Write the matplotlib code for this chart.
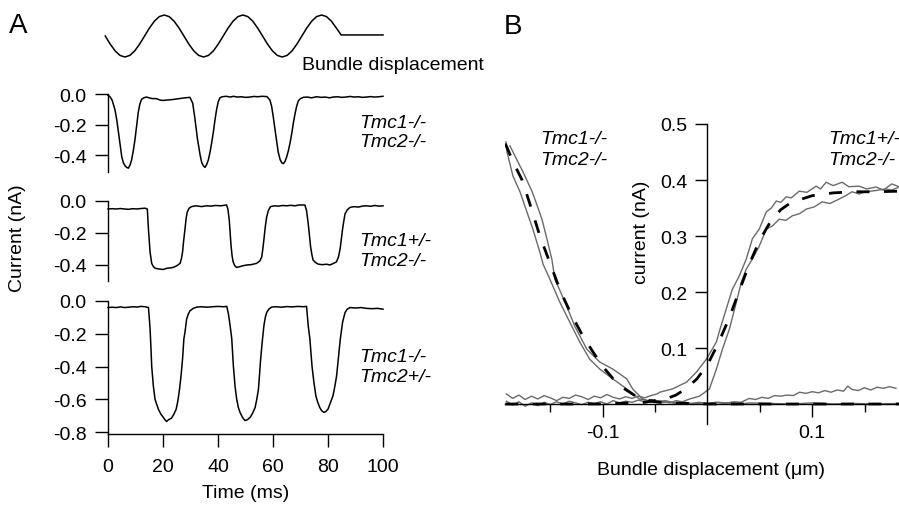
import matplotlib
matplotlib.use("Agg")
import matplotlib.pyplot as plt
from matplotlib.ticker import FormatStrFormatter

plt.rcParams['font.family'] = ['Liberation Sans', 'DejaVu Sans']
plt.rcParams['axes.unicode_minus'] = False
plt.rcParams['font.size'] = 14

# ---------------- DATA ----------------
# Panel A: stimulus (bundle displacement, normalised)
stim_t = [-1.0, 0.79, 2.58, 4.36, 6.15, 7.94, 9.73, 11.51, 13.3, 15.09, 16.88, 18.66, 20.45,
          22.24, 24.03, 25.81, 27.6, 29.39, 31.18, 32.96, 34.75, 36.54, 38.33, 40.11, 41.9,
          43.69, 45.48, 47.26, 49.05, 50.84, 52.63, 54.41, 56.2, 57.99, 59.78, 61.56, 63.35,
          65.14, 66.93, 68.71, 70.5, 72.29, 74.08, 75.86, 77.65, 79.44, 81.23, 83.01, 84.8, 100.0]
stim_v = [0, -0.383, -0.707, -0.924, -1, -0.924, -0.707, -0.383, 0, 0.383, 0.707, 0.924, 1,
          0.924, 0.707, 0.383, 0, -0.383, -0.707, -0.924, -1, -0.924, -0.707, -0.383, 0,
          0.383, 0.707, 0.924, 1, 0.924, 0.707, 0.383, 0, -0.383, -0.707, -0.924, -1,
          -0.924, -0.707, -0.383, 0, 0.383, 0.707, 0.924, 1, 0.924, 0.707, 0.383, 0.05, 0.05]

# Trace 1: Tmc1-/- Tmc2-/-
t1 = [0, 0.6, 1.5, 2.5, 3.2, 3.8, 4.4, 5.0, 5.6, 6.2, 6.8, 7.4, 8.0, 8.6, 9.2, 9.8, 10.4, 11.0,
      11.6, 12.2, 13.0, 13.9, 15, 16, 17.5, 19, 20, 21.2, 22.5, 24, 26, 28, 29.8, 30.8, 31.6,
      32.5, 33.5, 34.1, 34.7, 35.3, 35.9, 36.5, 37.1, 37.7, 38.3, 38.9, 39.5, 40.1, 40.7, 41.5,
      43, 44.5, 45.6, 47, 48.5, 50, 51.7, 53, 54.5, 56, 57.8, 58.9, 59.5, 60.1, 61.1, 61.9,
      62.6, 63.2, 63.8, 64.4, 65.0, 65.6, 66.2, 66.8, 67.4, 68.0, 68.6, 69.2, 70, 71, 72.5,
      74, 75.9, 77.5, 79, 80.5, 81.9, 83.5, 85, 86.5, 88, 89.5, 91, 92.5, 94, 95.5, 97, 98.5, 100]
i1 = [-0.01, -0.015, -0.04, -0.10, -0.17, -0.25, -0.33, -0.41, -0.45, -0.47, -0.48, -0.485,
      -0.465, -0.43, -0.37, -0.30, -0.21, -0.12, -0.065, -0.035, -0.025, -0.02, -0.025, -0.03,
      -0.03, -0.04, -0.042, -0.04, -0.038, -0.035, -0.03, -0.025, -0.022, -0.06, -0.16, -0.29,
      -0.40, -0.45, -0.47, -0.48, -0.46, -0.43, -0.38, -0.32, -0.25, -0.17, -0.10, -0.05,
      -0.025, -0.018, -0.015, -0.02, -0.015, -0.02, -0.018, -0.022, -0.02, -0.016, -0.018,
      -0.015, -0.017, -0.04, -0.08, -0.15, -0.28, -0.38, -0.43, -0.45, -0.455, -0.44, -0.41,
      -0.37, -0.32, -0.26, -0.19, -0.13, -0.08, -0.045, -0.03, -0.022, -0.02, -0.025, -0.018,
      -0.022, -0.02, -0.025, -0.02, -0.018, -0.022, -0.02, -0.016, -0.02, -0.018, -0.022,
      -0.02, -0.017, -0.02, -0.018, -0.015]

# Trace 2: Tmc1+/- Tmc2-/-
t2 = [0, 1.5, 3, 4.5, 6, 7.5, 9, 10.5, 12, 13.5, 14.3, 14.7, 15.3, 15.9, 16.5, 17.1, 18.5, 20.1,
      21.5, 22.7, 23.7, 25, 26.2, 26.7, 27.1, 27.5, 28.0, 28.4, 28.8, 29.5, 30.4, 32, 34, 35.8,
      37.5, 39, 41, 43.1, 43.6, 44.1, 44.7, 45.1, 45.5, 46.1, 46.8, 48, 49, 50.4, 52, 54, 55.2,
      55.9, 56.3, 56.7, 57.2, 57.7, 58.3, 59.1, 60.5, 62, 63.5, 64.9, 66.5, 68, 69.5, 71.6,
      72.2, 72.8, 73.7, 74.2, 74.6, 75.5, 76.5, 78, 79.5, 80.7, 82, 83.1, 83.8, 84.4, 85.3,
      85.8, 86.2, 87, 88, 89.5, 91, 92.5, 94, 95.5, 97, 98.5, 100]
i2 = [-0.05, -0.048, -0.05, -0.047, -0.05, -0.052, -0.048, -0.05, -0.047, -0.045, -0.05,
      -0.175, -0.32, -0.39, -0.41, -0.42, -0.425, -0.428, -0.42, -0.418, -0.415, -0.405,
      -0.39, -0.36, -0.32, -0.25, -0.175, -0.11, -0.07, -0.045, -0.035, -0.03, -0.035, -0.03,
      -0.032, -0.028, -0.03, -0.025, -0.05, -0.12, -0.27, -0.34, -0.38, -0.405, -0.415, -0.41,
      -0.405, -0.40, -0.398, -0.39, -0.375, -0.35, -0.30, -0.24, -0.16, -0.10, -0.06, -0.035,
      -0.03, -0.032, -0.028, -0.03, -0.027, -0.03, -0.025, -0.025, -0.06, -0.14, -0.29, -0.34,
      -0.37, -0.385, -0.395, -0.398, -0.395, -0.40, -0.39, -0.38, -0.35, -0.30, -0.175, -0.12,
      -0.08, -0.055, -0.04, -0.035, -0.038, -0.032, -0.03, -0.033, -0.028, -0.032, -0.03]

# Trace 3: Tmc1-/- Tmc2+/-
t3 = [0, 1.5, 3, 4.5, 6, 7.5, 9, 10.5, 12, 13.5, 14.7, 15.0, 15.3, 15.6, 15.9, 16.5, 17.1, 18.3,
      19.2, 20.1, 20.7, 21.3, 22.0, 23.1, 24.0, 24.8, 25.4, 26.0, 26.6, 27.1, 27.6, 28.0, 28.6,
      29.2, 29.8, 31, 32.3, 34, 36, 38, 40, 42, 43.2, 43.8, 44.4, 45.0, 45.6, 46.2, 46.8, 47.4,
      48.0, 48.9, 49.8, 50.7, 51.7, 52.6, 53.5, 54.1, 54.7, 55.1, 55.5, 56.2, 56.7, 57.2, 57.7,
      58.5, 59.5, 61, 63, 65, 67, 69, 71, 72.2, 72.8, 73.4, 74.2, 74.9, 75.6, 76.3, 77.0, 77.7,
      78.5, 79.2, 80.0, 80.9, 81.8, 82.5, 83.1, 83.6, 84.0, 84.5, 85.3, 86.2, 87, 88, 90, 92,
      94, 96, 98, 100]
i3 = [-0.04, -0.038, -0.04, -0.036, -0.04, -0.038, -0.035, -0.037, -0.033, -0.035, -0.04,
      -0.10, -0.17, -0.28, -0.40, -0.52, -0.60, -0.66, -0.69, -0.71, -0.725, -0.735, -0.725,
      -0.715, -0.69, -0.66, -0.61, -0.54, -0.45, -0.355, -0.23, -0.19, -0.11, -0.08, -0.06,
      -0.045, -0.037, -0.035, -0.038, -0.035, -0.033, -0.035, -0.033, -0.08, -0.15, -0.23,
      -0.40, -0.52, -0.60, -0.65, -0.68, -0.71, -0.73, -0.725, -0.71, -0.685, -0.65, -0.60,
      -0.54, -0.45, -0.355, -0.23, -0.15, -0.10, -0.07, -0.05, -0.037, -0.035, -0.038, -0.034,
      -0.036, -0.033, -0.035, -0.033, -0.15, -0.23, -0.40, -0.50, -0.58, -0.62, -0.65, -0.67,
      -0.68, -0.675, -0.66, -0.62, -0.58, -0.52, -0.46, -0.38, -0.31, -0.23, -0.13, -0.07,
      -0.05, -0.04, -0.043, -0.04, -0.045, -0.047, -0.045, -0.05]

# Panel B: current vs bundle displacement (um, nA)
flat_x = [-0.192, -0.186, -0.180, -0.174, -0.168, -0.162, -0.156, -0.150, -0.144, -0.138,
          -0.132, -0.126, -0.120, -0.114, -0.108, -0.102, -0.096, -0.090, -0.084, -0.078,
          -0.072, -0.066, -0.060, -0.054, -0.048]
n_up_x = flat_x + [-0.0457, -0.0333, -0.02, -0.0105, -0.001, 0.0086, 0.0114, 0.018, 0.0238,
                   0.0305, 0.0371, 0.0429, 0.0495, 0.0562, 0.061, 0.0657, 0.070, 0.0752, 0.080,
                   0.0876, 0.095, 0.1038, 0.108, 0.1133, 0.120, 0.1286, 0.135, 0.1448, 0.152,
                   0.161, 0.168, 0.176, 0.183]
n_up_y = [0.018, 0.010, 0.016, 0.008, 0.014, 0.009, 0.015, 0.011, 0.006, 0.012, 0.010, 0.016,
          0.013, 0.008, 0.014, 0.011, 0.017, 0.012, 0.009, 0.013, 0.010, 0.014, 0.011, 0.015,
          0.018] + [0.021, 0.027, 0.039, 0.057, 0.080, 0.111, 0.130, 0.170, 0.205, 0.229, 0.259,
                    0.295, 0.3125, 0.343, 0.350, 0.3625, 0.360, 0.370, 0.368, 0.380, 0.378,
                    0.389, 0.384, 0.396, 0.390, 0.396, 0.388, 0.389, 0.384, 0.3875, 0.382,
                    0.393, 0.388]
n_lo_x = flat_x + [-0.042, -0.036, -0.030, -0.024, -0.017, -0.0076, 0.0019, 0.0086, 0.0143,
                   0.021, 0.0276, 0.0324, 0.0371, 0.0429, 0.0495, 0.0562, 0.062, 0.0686, 0.075,
                   0.081, 0.088, 0.0943, 0.102, 0.1095, 0.117, 0.1257, 0.132, 0.138, 0.145,
                   0.151, 0.160, 0.170, 0.176, 0.183]
n_lo_y = [0.005, -0.002, 0.004, -0.004, 0.002, -0.003, 0.003, -0.001, 0.004, 0.000, 0.005,
          0.002, -0.001, 0.003, 0.001, 0.004, 0.000, 0.006, 0.002, 0.005, 0.003, 0.007, 0.004,
          0.008, 0.006] + [0.005, 0.002, 0.006, 0.004, 0.009, 0.014, 0.027, 0.0625, 0.098,
                           0.134, 0.182, 0.218, 0.241, 0.259, 0.282, 0.3125, 0.318, 0.330,
                           0.328, 0.336, 0.340, 0.348, 0.352, 0.361, 0.358, 0.366, 0.372,
                           0.379, 0.375, 0.379, 0.381, 0.384, 0.382, 0.3875]
r_a_x = [-0.1924, -0.1914, -0.1857, -0.179, -0.1724, -0.1667, -0.160, -0.157, -0.1505, -0.141,
         -0.1314, -0.122, -0.1124, -0.1029, -0.0905, -0.0771, -0.0648, -0.0524, -0.045, -0.038,
         -0.030, -0.022, -0.014, -0.006, 0.002, 0.010, 0.018, 0.026, 0.032, 0.040, 0.046,
         0.052, 0.058, 0.064, 0.070, 0.076, 0.082, 0.088, 0.094, 0.100, 0.106, 0.112, 0.118,
         0.124, 0.130, 0.134, 0.138, 0.144, 0.150, 0.156, 0.162, 0.168, 0.174, 0.180]
r_a_y = [0.468, 0.450, 0.407, 0.379, 0.343, 0.3125, 0.271, 0.250, 0.223, 0.182, 0.146, 0.111,
         0.080, 0.0625, 0.045, 0.027, 0.009, 0.004, 0.002, 0.004, 0.001, 0.003, 0.000, 0.002,
         0.001, 0.003, 0.002, 0.004, 0.003, 0.010, 0.008, 0.012, 0.010, 0.015, 0.014, 0.016,
         0.015, 0.021, 0.019, 0.022, 0.020, 0.024, 0.021, 0.025, 0.023, 0.032, 0.026, 0.024,
         0.029, 0.025, 0.030, 0.028, 0.031, 0.028]
r_b_x = [-0.1886, -0.179, -0.176, -0.1676, -0.1648, -0.158, -0.1533, -0.1486, -0.1457, -0.136,
         -0.1267, -0.1152, -0.1029, -0.0905, -0.0771, -0.0714, -0.0619, -0.055, -0.048, -0.040,
         -0.032, -0.024, -0.016, -0.008, 0.0, 0.008, 0.016, 0.024, 0.032, 0.04, 0.06, 0.08,
         0.10, 0.12, 0.14, 0.16, 0.183]
r_b_y = [0.461, 0.425, 0.414, 0.380, 0.366, 0.330, 0.295, 0.259, 0.223, 0.182, 0.139, 0.098,
         0.075, 0.0625, 0.045, 0.027, 0.009, 0.005, 0.003, 0.006, 0.002, 0.004, 0.001, 0.003,
         0.001, 0.003, 0.001, 0.002, 0.0, 0.002, 0.001, 0.0, 0.002, 0.0, 0.001, 0.0, 0.001]
fit_n_x = [-0.193, -0.10, -0.06, -0.04, -0.03, -0.02, -0.01, 0.0, 0.01, 0.02, 0.03, 0.04, 0.05,
           0.06, 0.07, 0.08, 0.10, 0.12, 0.14, 0.16, 0.183]
fit_n_y = [0, 0.0, 0.003, 0.009, 0.016, 0.028, 0.045, 0.070, 0.107, 0.150, 0.200, 0.250, 0.293,
           0.325, 0.347, 0.360, 0.372, 0.377, 0.379, 0.379, 0.38]
fit_r_x = [-0.193, -0.185, -0.177, -0.17, -0.16, -0.15, -0.14, -0.13, -0.12, -0.11, -0.10,
           -0.09, -0.08, -0.07, -0.06, -0.05, -0.04, 0.0, 0.183]
fit_r_y = [0.465, 0.43, 0.40, 0.36, 0.30, 0.25, 0.20, 0.16, 0.125, 0.095, 0.067, 0.045, 0.028,
           0.016, 0.008, 0.004, 0.002, 0, 0.]

yticks_a1 = [0.0, -0.2, -0.4]
yticks_a2 = [0.0, -0.2, -0.4]
yticks_a3 = [0.0, -0.2, -0.4, -0.6, -0.8]
xticks_a = [0, 20, 40, 60, 80, 100]
yticks_b = [0.1, 0.2, 0.3, 0.4, 0.5]
xticks_b = [-0.1, 0.1]
xminor_b = [-0.15, -0.05, 0.05, 0.15]

# ---------------- FIGURE ----------------
W, H = 899, 506
fig = plt.figure(figsize=(W / 100, H / 100), dpi=100)


def ax_px(x0, y0, x1, y1):
    return fig.add_axes([x0 / W, 1 - y1 / H, (x1 - x0) / W, (y1 - y0) / H])


def ft(x, y, s, **kw):
    kw.setdefault('ha', 'left')
    kw.setdefault('va', 'center')
    fig.text(x / W, 1 - y / H, s, **kw)


TL = 9.5
GRAY = '#6a6a6a'

# stimulus
axs = ax_px(108, 16, 383, 58)
axs.plot(stim_t, stim_v, color='k', lw=1.1, clip_on=False)
axs.set_xlim(0, 100)
axs.set_ylim(-1, 1)
axs.axis('off')


def trace_axes(box, t, i, ylim, yticks, bottom=False):
    ax = ax_px(*box)
    ax.plot(t, i, color='k', lw=1.1, clip_on=False)
    ax.set_xlim(0, 100)
    ax.set_ylim(*ylim)
    for s in ['top', 'right']:
        ax.spines[s].set_visible(False)
    if not bottom:
        ax.spines['bottom'].set_visible(False)
        ax.set_xticks([])
    ax.set_yticks(yticks)
    ax.yaxis.set_major_formatter(FormatStrFormatter('%.1f'))
    ax.tick_params(direction='out', length=TL, width=1.0, pad=6, labelsize=14)
    for s in ax.spines.values():
        s.set_linewidth(1.0)
    ax.patch.set_visible(False)
    return ax


trace_axes((108, 95, 383, 173), t1, i1, (-0.51, 0.0), yticks_a1)
trace_axes((108, 202, 383, 282), t2, i2, (-0.5, 0.0), yticks_a2)
ax3 = trace_axes((108, 302, 383, 435), t3, i3, (-0.812, 0.0), yticks_a3, bottom=True)
ax3.set_xticks(xticks_a)
ax3.tick_params(axis='x', pad=8)

ft(18, 26, 'A', ha='center', fontsize=20)
ft(302, 65, 'Bundle displacement')
for (y1, y2, a, b) in [(123, 143, 'Tmc1-/-', 'Tmc2-/-'),
                       (242, 261, 'Tmc1+/-', 'Tmc2-/-'),
                       (357, 377, 'Tmc1-/-', 'Tmc2+/-')]:
    ft(359, y1, a, style='italic')
    ft(359, y2, b, style='italic')
ft(18, 238, 'Current (nA)', ha='center', rotation=90)
ft(246, 494, 'Time (ms)', ha='center')

# panel B
axb = ax_px(505, 125, 899, 425)
for xx, yy in [(n_up_x, n_up_y), (n_lo_x, n_lo_y), (r_a_x, r_a_y), (r_b_x, r_b_y)]:
    axb.plot(xx, yy, color=GRAY, lw=1.0)
for xx, yy in [(fit_n_x, fit_n_y), (fit_r_x, fit_r_y)]:
    ln, = axb.plot(xx, yy, color='k', lw=2.0)
    ln.set_dashes((4.7, 5.2))
axb.set_xlim(-0.1933, 0.1829)
axb.set_ylim(-0.0357, 0.5)
axb.spines['left'].set_position(('data', 0))
axb.spines['bottom'].set_position(('data', 0))
for s in ['top', 'right']:
    axb.spines[s].set_visible(False)
for s in axb.spines.values():
    s.set_linewidth(1.0)
axb.set_yticks(yticks_b)
axb.yaxis.set_major_formatter(FormatStrFormatter('%.1f'))
axb.set_xticks(xticks_b)
axb.set_xticks(xminor_b, minor=True)
axb.xaxis.set_major_formatter(FormatStrFormatter('%.1f'))
axb.tick_params(axis='y', direction='out', length=8.6, width=1.0, pad=6, labelsize=14)
axb.tick_params(axis='x', which='major', direction='out', length=9.4, width=1.0, pad=5,
                labelsize=14)
axb.tick_params(axis='x', which='minor', direction='out', length=5.5, width=1.0)
axb.patch.set_visible(False)

ft(513, 27, 'B', ha='center', fontsize=20)
ft(540, 140, 'Tmc1-/-', style='italic')
ft(540, 161, 'Tmc2-/-', style='italic')
ft(828, 140, 'Tmc1+/-', style='italic')
ft(828, 161, 'Tmc2-/-', style='italic')
ft(641, 232, 'current (nA)', ha='center', rotation=90)
ft(711, 471, 'Bundle displacement (\u03bcm)', ha='center')

fig.savefig('out.png', dpi=100)
